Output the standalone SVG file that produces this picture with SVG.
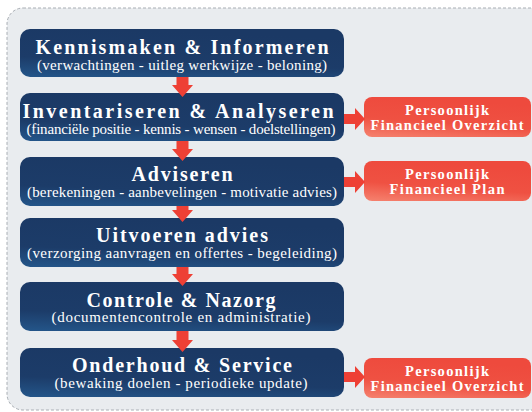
<svg xmlns="http://www.w3.org/2000/svg" width="532" height="412" viewBox="0 0 532 412">
<defs>
<linearGradient id="gNavy" x1="0" y1="1" x2="0.25" y2="0">
<stop offset="0" stop-color="#24568a"/>
<stop offset="0.4" stop-color="#1c3c69"/>
<stop offset="1" stop-color="#1b3965"/>
</linearGradient>
<linearGradient id="gRed" x1="0" y1="1" x2="0.3" y2="0">
<stop offset="0" stop-color="#f5826f"/>
<stop offset="0.45" stop-color="#ef5142"/>
<stop offset="1" stop-color="#ee4a3d"/>
</linearGradient>
<style>
.box{fill:url(#gNavy)}
.rbox{fill:url(#gRed)}
.t{font-family:"Liberation Serif",serif;font-weight:bold;font-size:20px;fill:#fff;text-anchor:middle}
.s{font-family:"Liberation Serif",serif;font-size:15px;fill:#fff;text-anchor:middle}
.r{font-family:"Liberation Serif",serif;font-weight:bold;font-size:14.5px;fill:#fff;text-anchor:middle}
.arr{fill:#ee4035}
</style>
</defs>
<rect x="7" y="8" width="545" height="402" rx="16" fill="#e9ecef" stroke="#a9aeb4" stroke-width="1" stroke-dasharray="3 2"/>

<g id="n1">
<rect class="box" x="20" y="29" width="324" height="48" rx="10"/>
<text class="t" x="182" y="54" textLength="293">Kennismaken &amp; Informeren</text>
<text class="s" x="182" y="70" textLength="290">(verwachtingen - uitleg werkwijze - beloning)</text>
</g>
<g id="n2">
<rect class="box" x="20" y="93" width="324" height="48" rx="10"/>
<text class="t" x="178" y="118" textLength="311">Inventariseren &amp; Analyseren</text>
<text class="s" x="181" y="134" textLength="309">(financiële positie - kennis - wensen - doelstellingen)</text>
</g>
<g id="n3">
<rect class="box" x="20" y="157" width="324" height="49" rx="10"/>
<text class="t" x="182" y="181" textLength="101">Adviseren</text>
<text class="s" x="182" y="197" textLength="310">(berekeningen - aanbevelingen - motivatie advies)</text>
</g>
<g id="n4">
<rect class="box" x="20" y="218" width="324" height="49" rx="10"/>
<text class="t" x="182" y="242" textLength="172">Uitvoeren advies</text>
<text class="s" x="182" y="258" textLength="310">(verzorging aanvragen en offertes - begeleiding)</text>
</g>
<g id="n5">
<rect class="box" x="20" y="282" width="324" height="49" rx="10"/>
<text class="t" x="181" y="307" textLength="189">Controle &amp; Nazorg</text>
<text class="s" x="181" y="322" textLength="259">(documentencontrole en administratie)</text>
</g>
<g id="n6">
<rect class="box" x="20" y="348" width="324" height="49" rx="10"/>
<text class="t" x="182" y="372" textLength="220">Onderhoud &amp; Service</text>
<text class="s" x="181" y="388" textLength="253">(bewaking doelen - periodieke update)</text>
</g>

<g id="r1">
<rect class="rbox" x="364" y="97" width="167" height="40" rx="8"/>
<text class="r" x="447" y="115" textLength="84">Persoonlijk</text>
<text class="r" x="447" y="130" textLength="153">Financieel Overzicht</text>
</g>
<g id="r2">
<rect class="rbox" x="364" y="161" width="167" height="40" rx="8"/>
<text class="r" x="447" y="179" textLength="84">Persoonlijk</text>
<text class="r" x="447" y="194" textLength="115">Financieel Plan</text>
</g>
<g id="r3">
<rect class="rbox" x="364" y="358" width="167" height="40" rx="8"/>
<text class="r" x="447" y="376" textLength="84">Persoonlijk</text>
<text class="r" x="447" y="391" textLength="153">Financieel Overzicht</text>
</g>

<g id="connectors">
<path class="arr" d="M176.5,77 H188.5 V85 H193 L182.5,97 L172,85 H176.5 Z"/>
<path class="arr" d="M176.5,141 H188.5 V149 H193 L182.5,161 L172,149 H176.5 Z"/>
<path class="arr" d="M176.5,206 H188.5 V210 H193 L182.5,222 L172,210 H176.5 Z"/>
<path class="arr" d="M176.5,267 H188.5 V274 H193 L182.5,286 L172,274 H176.5 Z"/>
<path class="arr" d="M176.5,331 H188.5 V340 H193 L182.5,352 L172,340 H176.5 Z"/>
<path class="arr" d="M344,114 H355 V108 L365,119 L355,130 V124 H344 Z"/>
<path class="arr" d="M344,177 H355 V171 L365,182 L355,193 V187 H344 Z"/>
<path class="arr" d="M344,372 H355 V366 L365,377 L355,388 V382 H344 Z"/>
</g>
</svg>
